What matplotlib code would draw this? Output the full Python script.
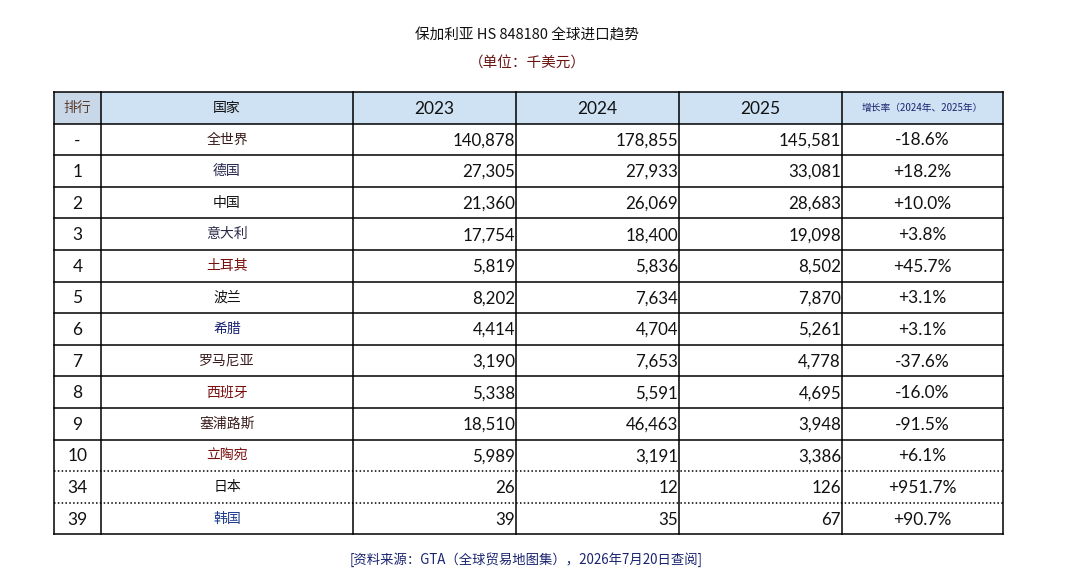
import matplotlib.pyplot as plt

plt.rcParams['font.family'] = ['Noto Sans CJK SC', 'DejaVu Sans']

# table data
ranks = ['-', '1', '2', '3', '4', '5', '6', '7', '8', '9', '10', '34', '39']
countries = ['全世界', '德国', '中国', '意大利', '土耳其', '波兰', '希腊', '罗马尼亚',
             '西班牙', '塞浦路斯', '立陶宛', '日本', '韩国']
v2023 = [140878, 27305, 21360, 17754, 5819, 8202, 4414, 3190, 5338, 18510, 5989, 26, 39]
v2024 = [178855, 27933, 26069, 18400, 5836, 7634, 4704, 7653, 5591, 46463, 3191, 12, 35]
v2025 = [145581, 33081, 28683, 19098, 8502, 7870, 5261, 4778, 4695, 3948, 3386, 126, 67]
growth = ['-18.6%', '+18.2%', '+10.0%', '+3.8%', '+45.7%', '+3.1%', '+3.1%', '-37.6%',
          '-16.0%', '-91.5%', '+6.1%', '+951.7%', '+90.7%']
headers = ['排行', '国家', '2023', '2024', '2025', '增长率（2024年、2025年）']

name_colors = ['#3a1c1c', '#23234a', '#111111', '#2a2a48', '#7a0c0c', '#111111', '#1a2470',
               '#3a1c1c', '#7a0c0c', '#3a1c1c', '#7a0c0c', '#111111', '#1f3c8c']

fig = plt.figure(figsize=(10.8, 5.8), dpi=100)
ax = fig.add_axes([0, 0, 1, 1])
ax.set_xlim(0, 1080)
ax.set_ylim(580, 0)
ax.axis('off')

cols = [54, 101, 353, 516, 679, 842, 1003]
top = 92
rh = 31.6
n = len(ranks) + 1
bottom = top + rh * n
num_font = ['Lato', 'DejaVu Sans']

# header background
ax.fill_between([cols[0], cols[1]], top, top + rh, color='#c8d8e8', lw=0)
ax.fill_between([cols[1], cols[-1]], top, top + rh, color='#cfe2f3', lw=0)

# grid lines, dotted above the last two rows
for i in range(n + 1):
    y = top + i * rh
    ls = (0, (1, 1.5)) if i in (12, 13) else '-'
    ax.plot([cols[0], cols[-1]], [y, y], color='black', lw=1.1, ls=ls)
for x in cols:
    ax.plot([x, x], [top, bottom], color='black', lw=1.1)

# header text
hy = top + rh / 2
ax.text((cols[0] + cols[1]) / 2, hy, headers[0], ha='center', va='center', fontsize=10, color='#5a3c2c')
ax.text((cols[1] + cols[2]) / 2, hy, headers[1], ha='center', va='center', fontsize=10, color='#111111')
for j in range(3):
    ax.text((cols[2 + j] + cols[3 + j]) / 2, hy + 1, headers[2 + j], ha='center', va='center',
            fontsize=12.5, color='#111111', family=num_font)
ax.text((cols[5] + cols[6]) / 2, hy, headers[5], ha='center', va='center', fontsize=7, color='#1a2470')

# body
for i in range(len(ranks)):
    y = top + (i + 1) * rh + rh / 2 + 1
    ax.text((cols[0] + cols[1]) / 2, y, ranks[i], ha='center', va='center', fontsize=12.5,
            color='#111111', family=num_font)
    ax.text((cols[1] + cols[2]) / 2, y - 1, countries[i], ha='center', va='center', fontsize=10,
            color=name_colors[i])
    for j, vals in enumerate([v2023, v2024, v2025]):
        ax.text(cols[3 + j] - 1, y, f'{vals[i]:,}', ha='right', va='center', fontsize=12.2,
                color='#111111', family=num_font)
    ax.text((cols[5] + cols[6]) / 2, y, growth[i], ha='center', va='center', fontsize=12.5,
            color='#111111', family=num_font)

# titles
ax.text(527, 35, '保加利亚 HS 848180 全球进口趋势', ha='center', va='center', fontsize=10.5, color='#111111')
ax.text(527, 64, '（单位：千美元）', ha='center', va='center', fontsize=10.5, color='#6a1414')
ax.text(526, 560, '[资料来源：GTA（全球贸易地图集），2026年7月20日查阅]', ha='center', va='center',
        fontsize=9.6, color='#1a2470')

fig.savefig('out.png', dpi=100)
